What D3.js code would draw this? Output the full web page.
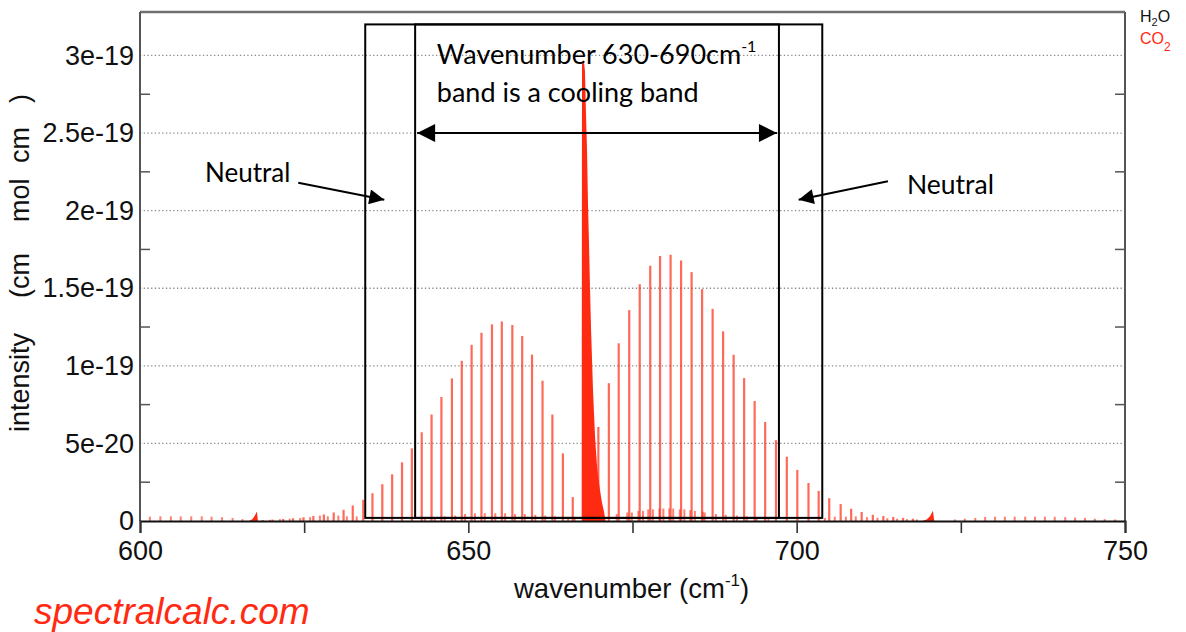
<!DOCTYPE html>
<html><head><meta charset="utf-8">
<script src="https://cdn.jsdelivr.net/npm/d3@7"></script>
<style>body{margin:0;background:#fff} svg{display:block}</style>
</head><body><svg id="c" width="1186" height="632"></svg>
<script>
// ---------------- data ----------------
// CO2 nu2 band, P-branch main lines (cm-1, intensity in 1e-20)
const pWn  = [618.7,620.2,621.8,623.3,624.9,626.4,628.0,629.5,631.0,632.4,634.0,635.4,636.9,638.4,639.9,641.4,642.9,644.4,645.9,647.5,649.0,650.5,652.0,653.6,655.1,656.7,658.2,659.7,661.3,662.8,664.4,665.9];
const pVal = [0.06,0.09,0.13,0.18,0.24,0.32,0.42,0.55,0.72,1.0,1.37,1.79,2.37,3.01,3.78,4.68,5.72,6.86,7.99,9.19,10.32,11.35,12.13,12.67,12.86,12.63,11.92,10.72,9.04,6.86,4.36,1.54];
// R-branch main lines
const rWn  = [669.8,671.4,672.9,674.5,676.1,677.7,679.2,680.8,682.4,684.0,685.6,687.2,688.8,690.4,692.0,693.6,695.2,696.85,698.5,700.1,701.8,703.35,704.96,706.7,708.3,709.9,711.6,713.2,714.7,716.2,717.7];
const rVal = [6.06,8.88,11.45,13.59,15.26,16.45,17.07,17.15,16.79,16.04,14.94,13.67,12.22,10.71,9.21,7.73,6.38,5.21,4.14,3.29,2.45,1.94,1.47,1.09,0.79,0.58,0.40,0.32,0.26,0.20,0.15];
// weak hot-band lines
const hotWn  = [619.8,621.3,622.8,624.4,625.9,627.4,628.6,630.2,631.5,633.0,643.4,644.9,646.4,648.0,649.5,651.0,652.5,654.1,655.6,657.1,658.6,660.2,661.7,663.2,665.2,666.2,
                672.6,674.2,674.9,675.9,676.6,677.4,678.1,679.1,679.7,680.6,681.2,682.2,682.9,683.8,684.5,685.7,686.0,687.7,689.2,690.9,692.4,693.9,695.7,
                704.3,705.8,707.5,709.0,710.7,712.3,713.8,715.3,716.8,718.3];
const hotVal = [0.08,0.12,0.15,0.2,0.25,0.35,0.3,0.35,0.3,0.3,0.2,0.25,0.3,0.35,0.45,0.5,0.5,0.5,0.5,0.45,0.45,0.4,0.35,0.3,0.25,0.2,
                0.45,0.55,0.55,0.65,0.65,0.75,0.75,0.8,0.8,0.8,0.8,0.75,0.75,0.7,0.65,0.6,0.55,0.45,0.4,0.35,0.3,0.25,0.2,
                0.2,0.28,0.28,0.3,0.25,0.2,0.18,0.15,0.12,0.1];
// far wing lines
const leftWn  = [601.5,603.1,604.7,606.2,607.8,609.4,610.9,612.5,614.1,615.6];
const leftVal = [0.28,0.3,0.3,0.3,0.3,0.3,0.28,0.25,0.2,0.12];
const rightWn  = [724.1,725.6,727.2,728.7,730.2,731.7,733.2,734.8,736.3,737.8,739.3,740.9,742.4,743.9,745.4,746.9,748.5];
const rightVal = [0.1,0.15,0.2,0.26,0.28,0.28,0.28,0.28,0.28,0.28,0.27,0.25,0.22,0.2,0.15,0.12,0.1];
// Q-branch (1e-19)
const qWn  = [667.26,667.31,667.46,667.61,667.76,667.92,668.07,668.22,668.37,668.53,668.68,668.83,668.98,669.13,669.29,669.44,669.59,669.74,670.05,670.35,670.66,670.9];
const qVal = [0,2.94,2.97,2.96,2.90,2.62,2.40,2.05,1.80,1.50,1.25,1.05,0.85,0.70,0.55,0.45,0.36,0.30,0.20,0.12,0.06,0];
// hot band Q-branches (1e-20)
const hq1Wn = [616.6,617.1,617.5,617.8,617.95];
const hq1Val = [0,0.12,0.35,0.62,0];
const hq2Wn = [719.1,719.8,720.3,720.75,720.95];
const hq2Val = [0,0.1,0.3,0.66,0];

const xTicks = [600,625,650,675,700,725,750];
const xTickLabels = ["600","","650","","700","","750"];
const yTicks = [0,0.5e-19,1e-19,1.5e-19,2e-19,2.5e-19,3e-19];
const yTickLabels = ["0","5e-20","1e-19","1.5e-19","2e-19","2.5e-19","3e-19"];
const yMinor = [0.25e-19,0.75e-19,1.25e-19,1.75e-19,2.25e-19,2.75e-19];

// annotation (data units)
const boxes = [[634.3,703.9],[641.9,697.3]];
const boxTop = 3.2e-19, boxBottom = 0.02e-19;
const bandArrow = {x0:641.9, x1:697.3, y:2.5e-19};
const neutralArrows = [{x0:624.1,y0:2.18e-19,x1:637.2,y1:2.07e-19},{x0:713.9,y0:2.19e-19,x1:700.3,y1:2.07e-19}];

// ---------------- drawing ----------------
const svg = d3.select("#c");
const x = d3.scaleLinear().domain([600,750]).range([140,1125]);
const y = d3.scaleLinear().domain([0,3.28e-19]).range([521,12]);
const RED = "#ff2a12";
const SANS = "'Liberation Sans',Arial,sans-serif";

// gridlines
svg.append("g").selectAll("line").data(yTicks.slice(1)).join("line")
  .attr("x1",x(600)).attr("x2",x(750)).attr("y1",d=>y(d)).attr("y2",d=>y(d))
  .attr("stroke","#8a8a8a").attr("stroke-width",1.3).attr("stroke-dasharray","1.3,2.4");

// spectral lines
const g = svg.append("g");
function sticks(wn, val, scale, w, op){
  g.append("g").selectAll("line").data(wn.map((d,i)=>[d,val[i]*scale])).join("line")
   .attr("x1",d=>x(d[0])).attr("x2",d=>x(d[0])).attr("y1",y(0)).attr("y2",d=>y(d[1]))
   .attr("stroke",RED).attr("stroke-width",w).attr("stroke-opacity",op);
}
sticks(hotWn, hotVal, 1e-20, 2, 0.6);
sticks(leftWn, leftVal, 1e-20, 2, 0.6);
sticks(rightWn, rightVal, 1e-20, 2, 0.6);
sticks(pWn, pVal, 1e-20, 2.2, 0.7);
sticks(rWn, rVal, 1e-20, 2.2, 0.7);

const area = d3.area().x(d=>x(d[0])).y0(y(0)).y1(d=>y(d[1]));
g.append("path").datum(qWn.map((d,i)=>[d,qVal[i]*1e-19])).attr("d",area).attr("fill",RED);
g.append("path").datum(hq1Wn.map((d,i)=>[d,hq1Val[i]*1e-20])).attr("d",area).attr("fill",RED);
g.append("path").datum(hq2Wn.map((d,i)=>[d,hq2Val[i]*1e-20])).attr("d",area).attr("fill",RED);

// frame
svg.append("line").attr("x1",x(600)).attr("x2",x(750)).attr("y1",12).attr("y2",12).attr("stroke","#707070").attr("stroke-width",2.5);
svg.append("line").attr("x1",x(600)).attr("x2",x(600)).attr("y1",12).attr("y2",y(0)).attr("stroke","#555").attr("stroke-width",2);
svg.append("line").attr("x1",x(750)).attr("x2",x(750)).attr("y1",12).attr("y2",y(0)).attr("stroke","#555").attr("stroke-width",2);
// minor y ticks (inside, both sides)
svg.append("g").selectAll("line").data(yMinor).join("line")
  .attr("x1",x(600)).attr("x2",x(600)+10).attr("y1",d=>y(d)).attr("y2",d=>y(d)).attr("stroke","#555").attr("stroke-width",1.5);
svg.append("g").selectAll("line").data(yMinor).join("line")
  .attr("x1",x(750)).attr("x2",x(750)-10).attr("y1",d=>y(d)).attr("y2",d=>y(d)).attr("stroke","#555").attr("stroke-width",1.5);

// x axis
const xa = svg.append("g").attr("transform",`translate(0,${y(0)})`)
  .call(d3.axisBottom(x).tickValues(xTicks).tickSize(12).tickPadding(8).tickFormat((d,i)=>xTickLabels[i]));
xa.select(".domain").attr("stroke","#111").attr("stroke-width",2);
xa.selectAll(".tick line").attr("stroke","#333").attr("stroke-width",1.6);
xa.selectAll("text").attr("font-family",SANS).attr("font-size",27).attr("fill","#111");

// y axis labels
const ya = svg.append("g").attr("transform",`translate(${x(600)},0)`)
  .call(d3.axisLeft(y).tickValues(yTicks).tickSize(0).tickPadding(6).tickFormat((d,i)=>yTickLabels[i]));
ya.select(".domain").remove();
ya.selectAll("text").attr("font-family",SANS).attr("font-size",27).attr("fill","#111");

// axis titles
const xt = svg.append("text").attr("x",514).attr("y",598)
  .attr("font-family",SANS).attr("font-size",27.5).attr("fill","#111");
xt.append("tspan").text("wavenumber (cm");
xt.append("tspan").attr("font-size",17).attr("dy",-12).text("-1");
xt.append("tspan").attr("dy",12).text(")");

const yl = [["intensity",432],["(cm",298],["mol",222],["cm",163],[")",103]];
svg.append("g").selectAll("text").data(yl).join("text")
  .attr("transform",d=>`translate(29,${d[1]}) rotate(-90)`)
  .attr("font-family",SANS).attr("font-size",27).attr("fill","#111")
  .text(d=>d[0]);

svg.append("text").attr("x",34).attr("y",624).attr("font-family",SANS)
  .attr("font-style","italic").attr("font-size",37).attr("fill",RED).text("spectralcalc.com");

// legend
const lg1 = svg.append("text").attr("x",1140).attr("y",22).attr("font-family",SANS).attr("font-size",16).attr("fill","#111");
lg1.append("tspan").text("H"); lg1.append("tspan").attr("font-size",11).attr("dy",4).text("2"); lg1.append("tspan").attr("dy",-4).text("O");
const lg2 = svg.append("text").attr("x",1140).attr("y",44).attr("font-family",SANS).attr("font-size",16).attr("fill",RED);
lg2.append("tspan").text("CO"); lg2.append("tspan").attr("font-size",12).attr("dy",7).text("2");

// annotation overlay
const defs = svg.append("defs");
defs.append("marker").attr("id","ah").attr("viewBox","0 0 10 10").attr("refX",10).attr("refY",5)
  .attr("markerUnits","userSpaceOnUse").attr("markerWidth",20).attr("markerHeight",18).attr("orient","auto-start-reverse")
  .append("path").attr("d","M0,0L10,5L0,10Z").attr("fill","#000");
defs.append("marker").attr("id","ah2").attr("viewBox","0 0 10 10").attr("refX",10).attr("refY",5)
  .attr("markerUnits","userSpaceOnUse").attr("markerWidth",17).attr("markerHeight",15).attr("orient","auto")
  .append("path").attr("d","M0,0L10,5L0,10Z").attr("fill","#000");

const ann = svg.append("g");
ann.selectAll("rect").data(boxes).join("rect")
  .attr("x",d=>x(d[0])).attr("width",d=>x(d[1])-x(d[0]))
  .attr("y",y(boxTop)).attr("height",y(boxBottom)-y(boxTop))
  .attr("fill","none").attr("stroke","#000").attr("stroke-width",2);
ann.append("line").attr("x1",x(bandArrow.x0)+2).attr("x2",x(bandArrow.x1)-2).attr("y1",y(bandArrow.y)).attr("y2",y(bandArrow.y))
  .attr("stroke","#000").attr("stroke-width",2).attr("marker-start","url(#ah)").attr("marker-end","url(#ah)");
ann.selectAll(".na").data(neutralArrows).join("line").attr("class","na")
  .attr("x1",d=>x(d.x0)).attr("y1",d=>y(d.y0)).attr("x2",d=>x(d.x1)).attr("y2",d=>y(d.y1))
  .attr("stroke","#000").attr("stroke-width",2).attr("marker-end","url(#ah2)");

const AF = "Lato,'Open Sans',sans-serif";
const t1 = ann.append("text").attr("x",x(645.2)).attr("y",y(2.946e-19)).attr("font-family",AF).attr("font-size",27).attr("fill","#000");
t1.append("tspan").text("Wavenumber 630-690cm");
t1.append("tspan").attr("font-size",16).attr("dy",-12).text("-1");
ann.append("text").attr("x",x(645.2)).attr("y",y(2.698e-19)).attr("font-family",AF).attr("font-size",27).attr("fill","#000").text("band is a cooling band");
ann.append("text").attr("x",x(609.9)).attr("y",y(2.183e-19)).attr("font-family",AF).attr("font-size",26).attr("fill","#000").text("Neutral");
ann.append("text").attr("x",x(716.8)).attr("y",y(2.11e-19)).attr("font-family",AF).attr("font-size",26.5).attr("fill","#000").text("Neutral");
</script></body></html>
